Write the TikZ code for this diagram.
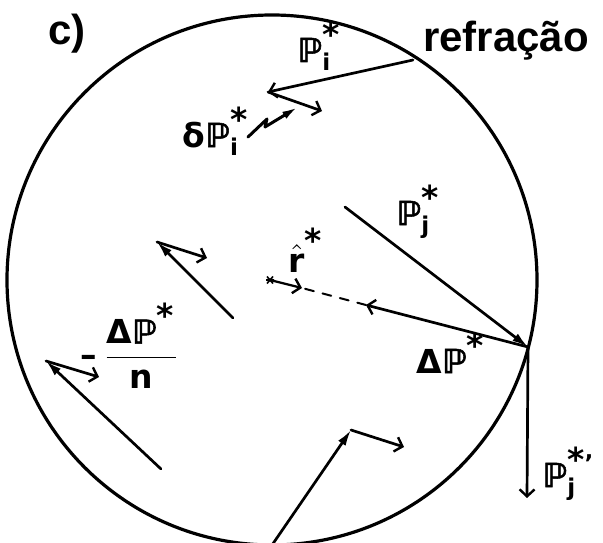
\documentclass[tikz,border=0pt]{standalone}
\usepackage{amsmath}
\usepackage{fontspec}
\setmainfont{Liberation Sans}
\newfontfamily\lf{DejaVu Sans Bold}
\newfontfamily\lfb{DejaVu Sans Bold}[FakeBold=1.6]
\usetikzlibrary{arrows.meta}
\newcommand{\PPb}{\text{\lfb ℙ}}
\newcommand{\stx}{\text{\lf\fontsize{10}{10}\selectfont *}}
\newcommand{\tx}[1]{\text{\lf #1}}
\tikzset{
  vec/.style={line width=2.7pt, line cap=round, line join=round},
  openhd/.style={vec, -{Straight Barb[length=7pt,width=15pt,line width=2.4pt]}},
  filledhd/.style={vec, -{Latex[length=16pt,width=9pt]}},
  lbl/.style={inner sep=0pt, anchor=base west, font=\normalsize, scale=3.3, transform shape},
  bigtxt/.style={inner sep=0pt, anchor=base west, font=\fontsize{42}{46}\selectfont\bfseries},
}
\begin{document}
\begin{tikzpicture}[x=1pt,y=-1pt]
\useasboundingbox (0,0) rectangle (603,543);
\fill[white] (0,0) rectangle (603,543);
% circle
\node[draw, circle, line width=3.2pt, minimum size=530pt, inner sep=0pt] (circ) at (272,280) {};
% coordinates
\coordinate (refr) at (413,60);
\coordinate (a1) at (268,92);
\coordinate (a1b) at (322,111);
\coordinate (z0) at (248,137);
\coordinate (z1) at (267,119);
\coordinate (z2) at (265,127);
\coordinate (z3) at (298,107);
\coordinate (pj0) at (345,207);
\coordinate (hit) at (528,347);
\coordinate (dp) at (366,305);
\coordinate (rs) at (270,280);
\coordinate (rt) at (302,288);
\coordinate (pj1) at (527,498);
\coordinate (l1s) at (233,318);
\coordinate (l1t) at (157,242);
\coordinate (l1u) at (207,258);
\coordinate (l2s) at (161,469);
\coordinate (l2t) at (46,361);
\coordinate (l2u) at (99,377);
\coordinate (l3s) at (270,548);
\coordinate (l3t) at (351,430);
\coordinate (l3u) at (404,447);
% refraction
\draw[openhd] (refr) -- (a1);
\draw[openhd] (a1) -- (a1b);
\draw[vec, line width=3pt, -{Latex[length=16pt,width=8pt]}] (z0) -- (z1) -- (z2) -- (z3);
% P_j
\draw[filledhd] (pj0) -- (hit);
\draw[openhd] (hit) -- (dp);
\draw[vec, dashed, dash pattern=on 9pt off 9pt, line width=2pt] (dp) -- (rt);
\draw[openhd, line width=2.2pt] (rs) -- (rt);
\draw[line width=1.6pt] ([shift={(-4,0)}]rs) -- ([shift={(4,0)}]rs)
  ([shift={(-3,-3.5)}]rs) -- ([shift={(3,3.5)}]rs)
  ([shift={(-3,3.5)}]rs) -- ([shift={(3,-3.5)}]rs);
\draw[openhd] (hit) -- (pj1);
% other pairs
\draw[filledhd] (l1s) -- (l1t);
\draw[openhd] (l1t) -- (l1u);
\draw[filledhd] (l2s) -- (l2t);
\draw[openhd] (l2t) -- (l2u);
\draw[filledhd] (l3s) -- (l3t);
\draw[openhd] (l3t) -- (l3u);
% labels
\node[bigtxt] (c) at (48,45) {c)};
\node[bigtxt] (refra) at (423,52) {refração};
\node[lbl] (lpi) at (297,62) {$\PPb^{\stx}_{\tx{i}}$};
\node[lbl] (ldpi) at (182,147) {$\tx{δ}\PPb^{\stx}_{\tx{i}}$};
\node[lbl] (lpj) at (396,225) {$\PPb^{\stx}_{\tx{j}}$};
\node[lbl] (lr) at (288,272) {$\hat{\tx{r}}^{\stx}$};
\node[lbl] (ldp) at (416,373) {$\tx{Δ}\PPb^{\stx}$};
\node[lbl] (lpjp) at (542,487) {$\PPb^{\stx\tx{’}}_{\tx{j}}$};
\node[lbl] (lfrac) at (80,366) {$\displaystyle \tx{–}\,\frac{\tx{Δ}\PPb^{\stx}}{\tx{n}}$};
\end{tikzpicture}
\end{document}
